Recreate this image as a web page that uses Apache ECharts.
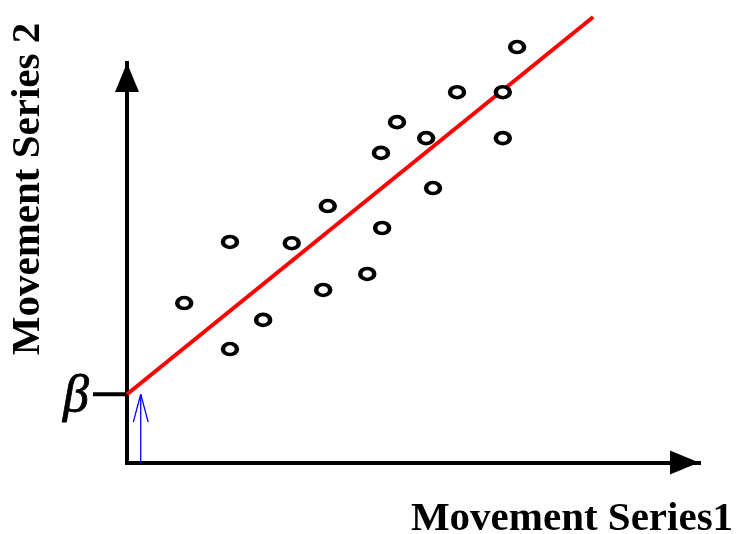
<!DOCTYPE html>
<html>
<head>
<meta charset="utf-8">
<script src="https://cdn.jsdelivr.net/npm/echarts@6/dist/echarts.min.js"></script>
<style>html,body{margin:0;padding:0;background:#fff}#c{width:738px;height:534px}</style>
</head>
<body>
<div id="c"></div>
<script>
// Scatter observations (Movement Series1, Movement Series 2)
var seriesX = [10.0, 18.0, 18.0, 23.8, 28.8, 34.3, 35.1, 42.0, 44.6, 44.4, 47.2, 52.3, 53.5, 57.7, 65.7, 65.7, 68.2];
var seriesY = [39.9, 55.2, 28.4, 35.7, 54.9, 43.2, 64.2, 47.2, 58.7, 77.5, 85.2, 81.2, 68.7, 92.7, 92.7, 81.2, 104.0];
// Regression line: intercept beta and end point
var beta = 17.1;
var lineX = [0, 81.5];
var lineY = [beta, 111.5];
// blue arrow
var arrowX = 2.4;
var arrowWing = [1.3, 7.0];

var points = seriesX.map(function (x, i) { return [x, seriesY[i]]; });
var regLine = lineX.map(function (x, i) { return [x, lineY[i]]; });
var arrowShaft = [[arrowX, 0], [arrowX, beta]];
var arrowHead = [[arrowX - arrowWing[0], beta - arrowWing[1]], [arrowX, beta], [arrowX + arrowWing[0], beta - arrowWing[1]]];

var chart = echarts.init(document.getElementById('c'), null, {renderer: 'canvas'});
var axisCommon = {
  axisTick: {show: false},
  axisLabel: {show: false},
  splitLine: {show: false},
  axisLine: {
    show: true,
    symbol: ['none', 'triangle'],
    symbolSize: [24, 29],
    symbolOffset: [0, -14.5],
    lineStyle: {color: '#000', width: 4, cap: 'square'}
  }
};
chart.setOption({
  animation: false,
  backgroundColor: '#fff',
  grid: {left: 127, right: 39, top: 63, bottom: 71.5, containLabel: false},
  xAxis: Object.assign({type: 'value', min: 0, max: 100}, axisCommon),
  yAxis: Object.assign({type: 'value', min: 0, max: 100}, axisCommon),
  series: [
    {
      // beta tick on the y axis
      type: 'scatter', data: [[0, beta]], clip: false, silent: true,
      symbol: 'rect', symbolSize: [34, 4], symbolOffset: [-17, 0],
      itemStyle: {color: '#000', opacity: 1}, z: 3,
      label: {
        show: true, formatter: 'β', position: 'left', distance: 4,
        color: '#000', opacity: 1, fontFamily: 'Liberation Serif', fontStyle: 'italic', fontSize: 52,
        textBorderColor: '#000', textBorderWidth: 0.8,
        offset: [0, 3]
      }
    },
    {
      type: 'line', data: arrowShaft, symbol: 'none', clip: false, silent: true,
      lineStyle: {color: '#0000ff', width: 1.3}, z: 3
    },
    {
      type: 'line', data: arrowHead, symbol: 'none', clip: false, silent: true,
      lineStyle: {color: '#0000ff', width: 1.3}, z: 3
    },
    {
      type: 'line', data: regLine, symbol: 'none', clip: false, silent: true,
      lineStyle: {color: '#ff0000', width: 4}, z: 4
    },
    {
      type: 'scatter', data: points, clip: false, silent: true,
      symbol: 'path://M0,5 A5,5 0 1,1 10,5 A5,5 0 1,1 0,5 Z',
      symbolSize: [14, 11],
      itemStyle: {color: '#fff', borderColor: '#000', borderWidth: 4, opacity: 1},
      z: 5
    }
  ],
  graphic: [
    {
      type: 'text', x: 28, y: 189, rotation: Math.PI / 2,
      style: {text: 'Movement Series 2', font: 'bold 41px "Liberation Serif"', fill: '#000', textAlign: 'center', textVerticalAlign: 'middle'}
    },
    {
      type: 'text', x: 572, y: 519,
      style: {text: 'Movement Series1', font: 'bold 41px "Liberation Serif"', fill: '#000', textAlign: 'center', textVerticalAlign: 'middle'}
    }
  ]
});
</script>
</body>
</html>
